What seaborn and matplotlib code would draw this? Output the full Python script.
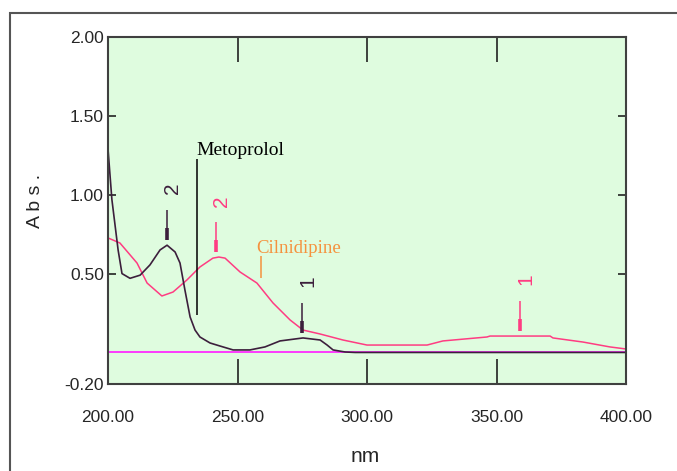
import matplotlib
matplotlib.use('Agg')
import matplotlib.pyplot as plt
from matplotlib import font_manager
from matplotlib.patches import Rectangle
import seaborn as sns
import pandas as pd
import numpy as np

# スペクトルデータ (目視で読み取った値)
meto_nm = [200, 201.5, 203.9, 205.4, 208.5, 212.4, 216.2, 220.1, 222.8, 225.9, 227.8, 229.7,
           231.7, 233.6, 235.5, 239.4, 243.2, 248.3, 254.8, 260.6, 266.4, 275.3, 281.9,
           284.6, 286.9, 291.5, 295.4, 400]
meto_abs = [1.29, 0.97, 0.65, 0.50, 0.47, 0.49, 0.555, 0.65, 0.68, 0.637, 0.567, 0.396,
            0.225, 0.142, 0.098, 0.06, 0.041, 0.016, 0.016, 0.035, 0.073, 0.092, 0.079,
            0.047, 0.016, 0.003, 0.0, 0.0]

cil_nm = [200, 204.6, 211.2, 215.1, 220.8, 225.1, 230.5, 235.5, 240.5, 242.8, 245.2, 251,
          257.5, 263.7, 270.3, 275.3, 281.9, 290.7, 300, 323.2, 329.3, 346.3, 347.5, 359.1,
          370.7, 371.8, 383.4, 393.8, 400]
cil_abs = [0.726, 0.694, 0.567, 0.44, 0.358, 0.383, 0.46, 0.542, 0.598, 0.605, 0.598, 0.51,
           0.44, 0.314, 0.206, 0.142, 0.117, 0.079, 0.047, 0.047, 0.073, 0.098, 0.104, 0.104,
           0.104, 0.092, 0.066, 0.035, 0.022]

base_nm = [200, 400]
base_abs = [0.0, 0.0]

# ピークマーカー (波長, 番号, 対象の系列)
peak_nm = [222.8, 274.9, 241.7, 359.1]
peak_label = ['2', '1', '2', '1']
peak_series = ['meto', 'meto', 'cil', 'cil']

x_ticks = [200, 250, 300, 350, 400]
y_ticks = [-0.2, 0.5, 1.0, 1.5, 2.0]

col_meto = '#3c1f3c'
col_cil = '#ff3c82'

sns.set_style('white')
names = {f.name for f in font_manager.fontManager.ttflist}
narrow = 'Liberation Sans Narrow' if 'Liberation Sans Narrow' in names else 'Liberation Sans'
plt.rcParams['font.family'] = [narrow, 'DejaVu Sans']

fig = plt.figure(figsize=(6.77, 4.71), dpi=100)
ax = fig.add_axes([108 / 677, 1 - 384 / 471, 518 / 677, 347 / 471])
ax.set_facecolor('#dffcdf')

df_base = pd.DataFrame({'nm': base_nm, 'abs': base_abs})
df_meto = pd.DataFrame({'nm': meto_nm, 'abs': meto_abs})
df_cil = pd.DataFrame({'nm': cil_nm, 'abs': cil_abs})
sns.lineplot(data=df_base, x='nm', y='abs', ax=ax, color='#ff2cff', lw=1.3)
sns.lineplot(data=df_cil, x='nm', y='abs', ax=ax, color=col_cil, lw=1.1)
sns.lineplot(data=df_meto, x='nm', y='abs', ax=ax, color=col_meto, lw=1.2)

# ピーク位置の矢印と番号
for nm, lab, ser in zip(peak_nm, peak_label, peak_series):
    if ser == 'meto':
        y_peak = np.interp(nm, meto_nm, meto_abs)
        col = col_meto
    else:
        y_peak = np.interp(nm, cil_nm, cil_abs)
        col = col_cil
    ax.vlines(nm, y_peak + 0.035, y_peak + 0.225, color=col, lw=1.1)
    ax.vlines(nm, y_peak + 0.035, y_peak + 0.11, color=col, lw=2.6)
    ax.text(nm + 2.2, y_peak + 0.36, lab, color=col, rotation=90,
            ha='center', va='center', fontsize=15)

# 化合物名のラベル
ax.vlines(234.4, 0.24, 1.227, color='black', lw=1.1)
ax.text(234.0, 1.28, 'Metoprolol', family=['Liberation Serif', 'DejaVu Serif'],
        fontsize=14, color='black', ha='left', va='center')
ax.vlines(259.1, 0.472, 0.612, color='#f5923e', lw=1.1)
ax.text(257.2, 0.66, 'Cilnidipine', family=['Liberation Serif', 'DejaVu Serif'],
        fontsize=13.5, color='#f5923e', ha='left', va='center')

ax.set_xlim(200, 400)
ax.set_ylim(-0.2, 2.0)
ax.set_xticks(x_ticks)
ax.set_xticklabels([f'{v:.2f}' for v in x_ticks])
ax.set_yticks(y_ticks)
ax.set_yticklabels([f'{v:.2f}' for v in y_ticks])
ax.tick_params(axis='x', direction='in', length=18, width=1.2, top=True, bottom=True,
               pad=19, labelsize=12.5, color='#222222')
ax.tick_params(axis='y', direction='in', length=6, width=1.2, left=True, right=True,
               pad=3, labelsize=12.5, color='#222222')
ax.set_xlabel('')
ax.set_ylabel('')
for s in ax.spines.values():
    s.set_color('#404040')
    s.set_linewidth(1.5)

fig.text(365 / 677, 1 - 457 / 471, 'nm', ha='center', va='center', fontsize=15)
fig.text(35 / 677, 1 - 201 / 471, 'A b s .', ha='center', va='center', rotation=90,
         fontsize=14, family=['Liberation Sans', 'DejaVu Sans'])

# 図全体の枠線
fig.patches.append(Rectangle((10 / 677, -0.1), 1.2, 0.1 + 1 - 13 / 471,
                             transform=fig.transFigure, fill=False,
                             edgecolor='#555555', lw=1.5))

fig.savefig('out.png', dpi=100)
